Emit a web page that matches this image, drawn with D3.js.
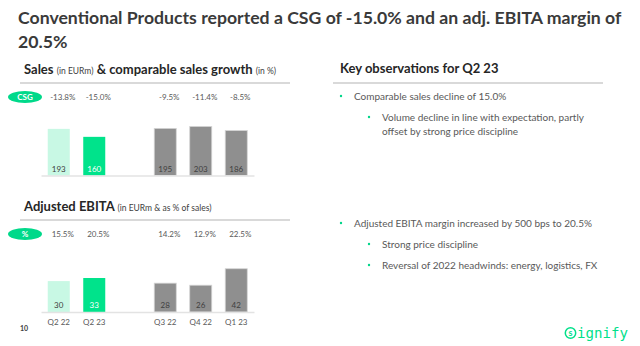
<!DOCTYPE html>
<html lang="en">
<head>
  <meta charset="utf-8">
  <title>Conventional Products Q2 23</title>
  <script src="https://cdn.jsdelivr.net/npm/d3@7"></script>
  <style>
    body { margin: 0; background: #fff; }
    svg { font-family: Lato, "Open Sans", sans-serif; display: block; }
    .title { font-weight: bold; fill: #3a3a3a; }
    .head { font-weight: bold; fill: #262626; font-size: 13px; }
    .head .unit { font-weight: normal; font-size: 8.5px; fill: #404040; }
    .rule { stroke: #d9d9d9; stroke-width: 2; }
    .pct { font-size: 8px; fill: #595959; }
    .val { font-size: 8px; fill: #404040; }
    .bullet { font-size: 10px; fill: #595959; }
    .dot { fill: #00d68a; }
    .axis path { stroke: #e3e3e3; stroke-width: 1.5; }
    .axis text { font-size: 8px; fill: #595959; font-family: Lato, "Open Sans", sans-serif; }
  </style>
</head>
<body>
<script>
  // quarters and values
  var categories = ["Q2 22", "Q2 23", "Q3 22", "Q4 22", "Q1 23"];
  var sales = [193, 160, 195, 203, 186];          // EURm
  var csg = [-13.8, -15.0, -9.5, -11.4, -8.5];     // %
  var ebita = [30, 33, 28, 26, 42];                // EURm
  var margin = [15.5, 20.5, 14.2, 12.9, 22.5];     // % of sales

  var fills = ["#c8f8e4", "#00e38b", "#8f8f8f", "#8f8f8f", "#8f8f8f"];

  var w = 640, h = 346;
  var svg = d3.select("body").append("svg")
    .attr("width", w)
    .attr("height", h);

  // title: first line sized so it fills the slide width
  var title = svg.append("g").attr("class", "title");
  var t1 = title.append("text").attr("x", 18).attr("y", 24)
    .style("font-size", "20px")
    .text("Conventional Products reported a CSG of -15.0% and an adj. EBITA margin of");
  var fs = Math.min(20, 20 * 604 / t1.node().getComputedTextLength());
  t1.style("font-size", fs + "px");
  title.append("text").attr("x", 18).attr("y", 48)
    .style("font-size", fs + "px")
    .text("20.5%");

  // shared x positions, with one empty slot between Q2 23 and Q3 22
  var slots = categories.slice(0, 2).concat(["gap"], categories.slice(2));
  var x = d3.scaleBand()
    .domain(slots)
    .range([41, 254])
    .paddingInner(0.38)
    .paddingOuter(0.19);

  function heading(y, parts) {
    var t = svg.append("text").attr("class", "head").attr("x", 24).attr("y", y);
    parts.forEach(function (p) {
      t.append("tspan").attr("class", p[1] ? "unit" : null).text(p[0]);
    });
    svg.append("line").attr("class", "rule")
      .attr("x1", 20).attr("x2", 290).attr("y1", y + 9).attr("y2", y + 9);
  }

  function pill(y, label) {
    svg.append("ellipse")
      .attr("cx", 25).attr("cy", y).attr("rx", 17).attr("ry", 6)
      .attr("fill", "#00d98a");
    svg.append("text")
      .attr("x", 25).attr("y", y + 3)
      .attr("text-anchor", "middle")
      .attr("fill", "#fff").attr("font-size", "8px").attr("font-weight", "bold")
      .text(label);
  }

  function panel(opts) {
    var y = d3.scaleLinear().domain([0, opts.max]).range([opts.base, opts.base - opts.span]);
    var rows = categories.map(function (c, i) {
      return { cat: c, v: opts.values[i], p: opts.pcts[i], fill: fills[i], i: i };
    });

    pill(opts.pctY, opts.pill);

    svg.append("g").selectAll("text")
      .data(rows).enter().append("text")
      .attr("class", "pct")
      .attr("x", function (d) { return x(d.cat) + x.bandwidth() / 2 + 4; })
      .attr("y", opts.pctY + 3)
      .attr("text-anchor", "middle")
      .text(function (d) { return d.p.toFixed(1) + "%"; });

    svg.append("g").selectAll("rect")
      .data(rows).enter().append("rect")
      .attr("x", function (d) { return x(d.cat); })
      .attr("y", function (d) { return y(d.v); })
      .attr("width", x.bandwidth())
      .attr("height", function (d) { return opts.base - y(d.v); })
      .attr("fill", function (d) { return d.fill; })
      .attr("stroke", function (d) { return d.i > 1 ? "#d4d4d4" : "none"; })
      .attr("stroke-width", 0.8);

    svg.append("g").selectAll("text")
      .data(rows).enter().append("text")
      .attr("class", "val")
      .attr("x", function (d) { return x(d.cat) + x.bandwidth() / 2; })
      .attr("y", opts.base - 4)
      .attr("text-anchor", "middle")
      .style("fill", function (d) { return d.i === 1 ? "#fff" : null; })
      .text(function (d) { return d.v; });

    var axis = d3.axisBottom(x).tickSize(0).tickPadding(7)
      .tickFormat(function (d) { return d === "gap" ? "" : d; });
    var g = svg.append("g").attr("class", "axis")
      .attr("transform", "translate(0," + opts.base + ")")
      .call(axis);
    if (!opts.labels) g.selectAll("text").remove();
  }

  // Sales panel
  heading(74, [["Sales "], ["(in EURm)", true], [" & comparable sales growth "], ["(in %)", true]]);
  panel({ values: sales, pcts: csg, max: 250, base: 175.5, span: 60.4,
    pctY: 97, pill: "CSG", labels: false });

  // Adjusted EBITA panel
  heading(211, [["Adjusted EBITA "], ["(in EURm & as % of sales)", true]]);
  panel({ values: ebita, pcts: margin, max: 50, base: 312, span: 51.5,
    pctY: 234, pill: "%", labels: true });

  svg.append("text").attr("x", 20).attr("y", 331)
    .attr("font-size", "7px").attr("font-weight", "bold").attr("fill", "#404040")
    .text("10");

  // key observations
  svg.append("text").attr("class", "head").attr("x", 340).attr("y", 73)
    .text("Key observations for Q2 23");
  svg.append("line").attr("class", "rule")
    .attr("x1", 333).attr("x2", 603).attr("y1", 83).attr("y2", 83);

  var notes = [
    { lvl: 0, y: 96, text: "Comparable sales decline of 15.0%" },
    { lvl: 1, y: 117, text: "Volume decline in line with expectation, partly" },
    { lvl: 1, y: 131, text: "offset by strong price discipline", cont: true },
    { lvl: 0, y: 223, text: "Adjusted EBITA margin increased by 500 bps to 20.5%" },
    { lvl: 1, y: 244, text: "Strong price discipline" },
    { lvl: 1, y: 265, text: "Reversal of 2022 headwinds: energy, logistics, FX" }
  ];
  var ng = svg.append("g");
  ng.selectAll("circle")
    .data(notes.filter(function (d) { return !d.cont; }))
    .enter().append("circle")
    .attr("class", "dot")
    .attr("cx", function (d) { return d.lvl ? 369 : 341; })
    .attr("cy", function (d) { return d.y; })
    .attr("r", 1.2);
  ng.selectAll("text")
    .data(notes).enter().append("text")
    .attr("class", "bullet")
    .attr("x", function (d) { return d.lvl ? 382 : 354; })
    .attr("y", function (d) { return d.y + 3.5; })
    .text(function (d) { return d.text; });

  // signify mark
  var logo = svg.append("g").attr("transform", "translate(565,333)");
  logo.append("circle").attr("cx", 5.5).attr("cy", 0).attr("r", 5.2)
    .attr("fill", "none").attr("stroke", "#00e08a").attr("stroke-width", 1.5);
  logo.append("text").attr("x", 5.5).attr("y", 3.3).attr("text-anchor", "middle")
    .attr("font-size", "9px").attr("font-weight", "bold").attr("fill", "#00e08a").text("s");
  logo.append("text").attr("x", 12).attr("y", 4.5)
    .attr("font-size", "14.5px").attr("fill", "#00e08a")
    .attr("font-family", "'DejaVu Sans Mono', monospace")
    .attr("textLength", 51).attr("lengthAdjust", "spacingAndGlyphs")
    .text("ignify");
</script>
</body>
</html>
